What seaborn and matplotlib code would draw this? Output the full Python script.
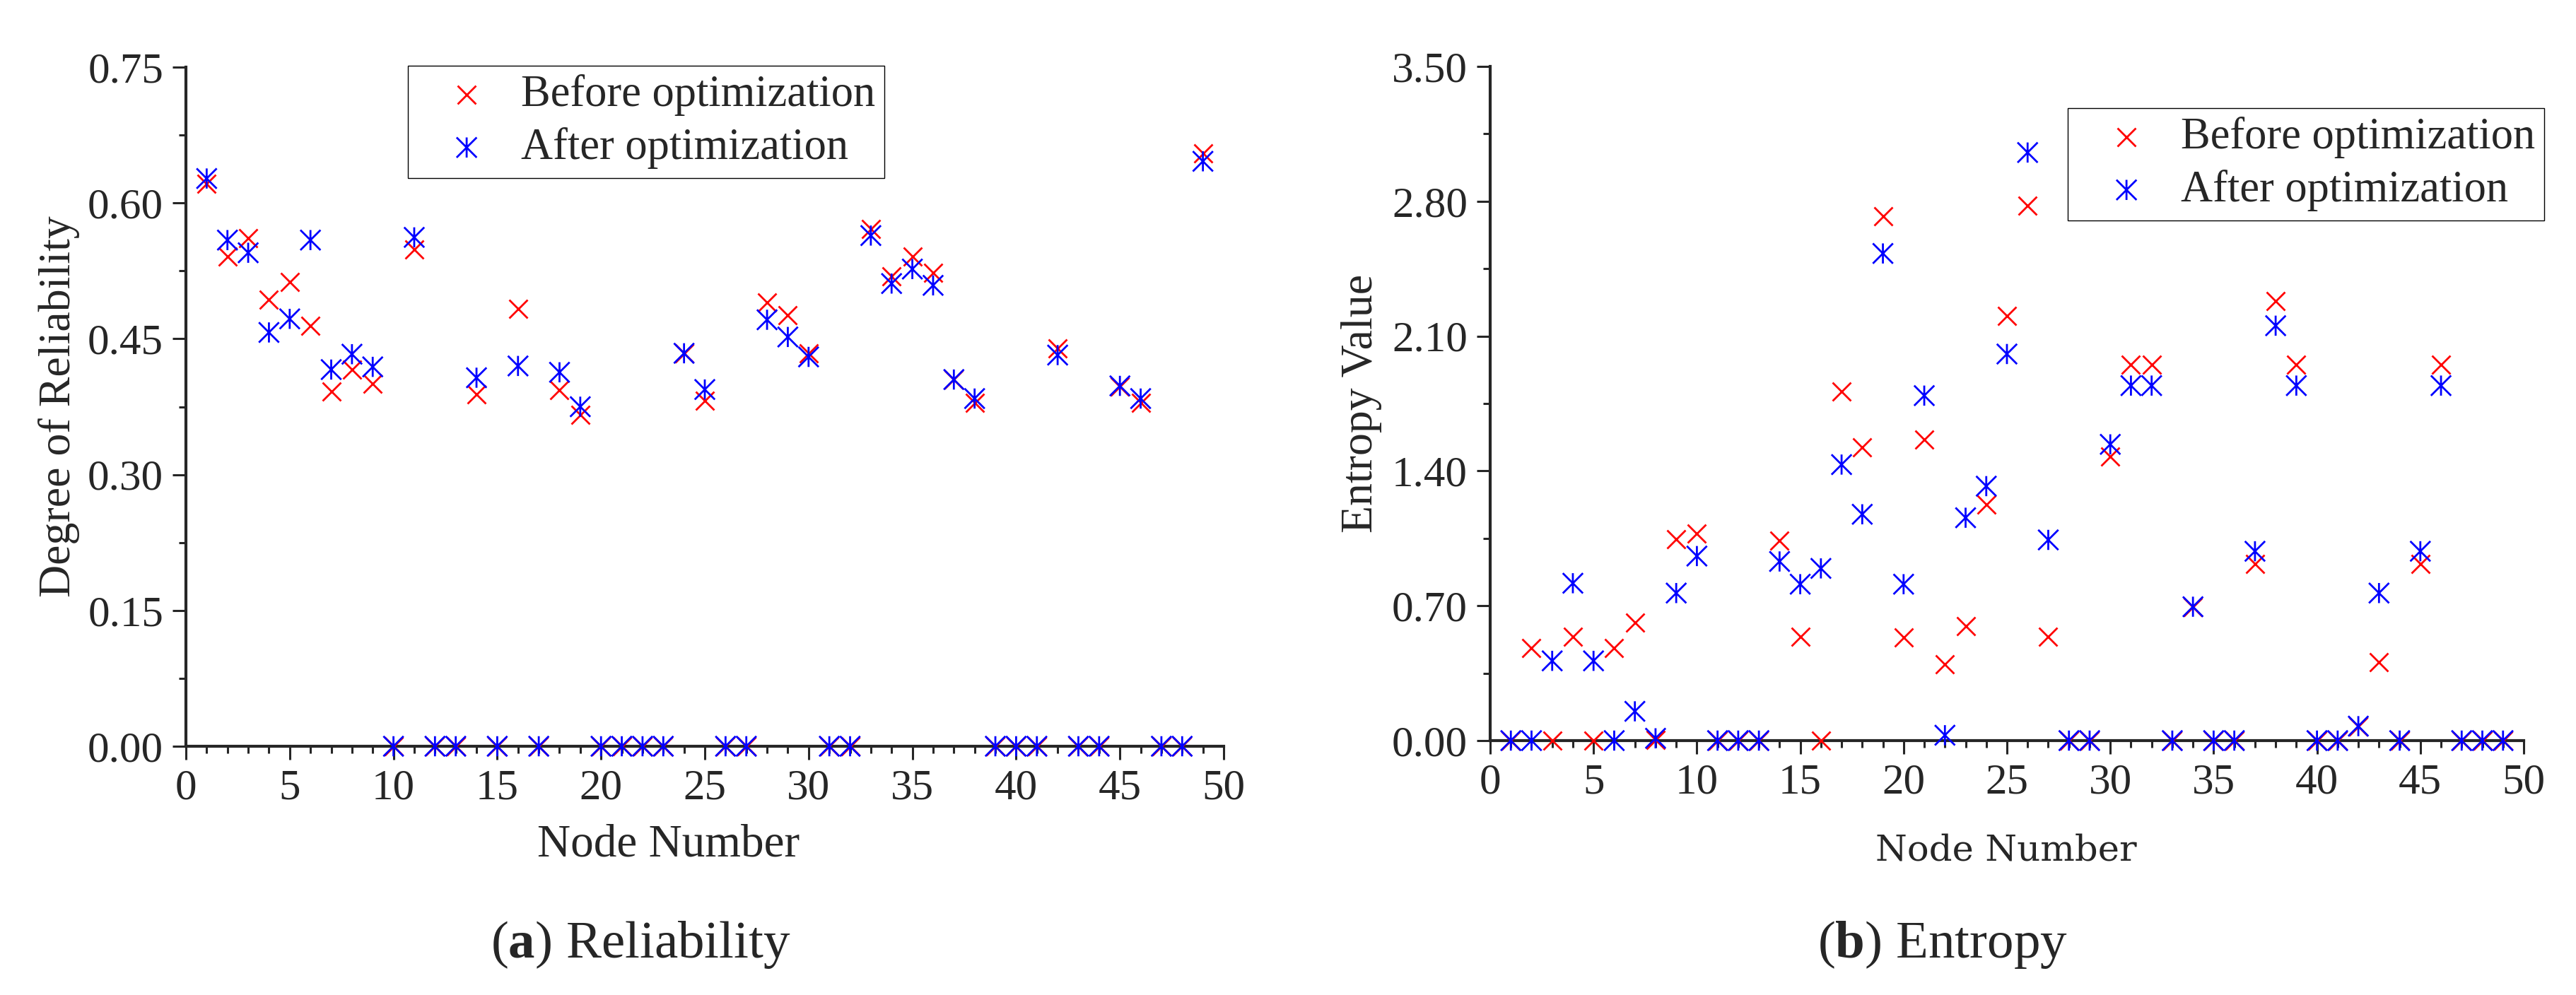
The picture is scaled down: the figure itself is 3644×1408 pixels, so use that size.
import matplotlib
matplotlib.use("Agg")
import matplotlib.pyplot as plt
from matplotlib.path import Path
from matplotlib.ticker import MultipleLocator, FormatStrFormatter
import seaborn as sns

# node ids 1..49
nodes = list(range(1, 50))

# (a) degree of reliability
rel_before = [0.621, 0.541, 0.561, 0.493, 0.513, 0.464, 0.392, 0.416, 0.400, 0,
              0.549, 0, 0, 0.389, 0, 0.483, 0, 0.393, 0.366, 0,
              0, 0, 0, 0.434, 0.382, 0, 0, 0.490, 0.476, 0.434,
              0, 0, 0.571, 0.519, 0.541, 0.523, 0.405, 0.379, 0, 0,
              0, 0.439, 0, 0, 0.397, 0.379, 0, 0, 0.655]
rel_after = [0.627, 0.559, 0.545, 0.457, 0.472, 0.559, 0.416, 0.433, 0.419, 0,
             0.562, 0, 0, 0.407, 0, 0.420, 0, 0.413, 0.375, 0,
             0, 0, 0, 0.434, 0.394, 0, 0, 0.471, 0.452, 0.430,
             0, 0, 0.564, 0.511, 0.527, 0.509, 0.405, 0.384, 0, 0,
             0, 0.432, 0, 0, 0.398, 0.384, 0, 0, 0.646]

# (b) entropy value
ent_before = [0, 0.480, 0, 0.539, 0, 0.480, 0.611, 0.005, 1.047, 1.075,
              0, 0, 0, 1.040, 0.539, 0, 1.812, 1.522, 2.721, 0.536,
              1.562, 0.398, 0.595, 1.227, 2.206, 2.779, 0.539, 0, 0, 1.475,
              1.953, 1.953, 0, 0.695, 0, 0, 0.918, 2.283, 1.953, 0,
              0, 0.075, 0.407, 0, 0.918, 1.953, 0, 0, 0]
ent_after = [0, 0, 0.414, 0.817, 0.414, 0, 0.152, 0.012, 0.766, 0.958,
             0, 0, 0, 0.930, 0.812, 0.894, 1.433, 1.175, 2.529, 0.812,
             1.791, 0.028, 1.157, 1.321, 2.007, 3.053, 1.042, 0, 0, 1.538,
             1.843, 1.843, 0, 0.695, 0, 0, 0.983, 2.154, 1.843, 0,
             0, 0.075, 0.766, 0, 0.983, 1.843, 0, 0, 0]

labels = ["Before optimization", "After optimization"]

sns.set_style("ticks")
plt.rcParams["font.family"] = ["Liberation Serif", "DejaVu Serif"]
plt.rcParams["mathtext.fontset"] = "custom"
plt.rcParams["mathtext.rm"] = "Liberation Serif"
plt.rcParams["mathtext.bf"] = "Liberation Serif:bold"

# asterisk marker: x plus a vertical bar
star = Path([(-0.5, -0.5), (0.5, 0.5), (-0.5, 0.5), (0.5, -0.5), (0, -0.5), (0, 0.5)],
            [Path.MOVETO, Path.LINETO] * 3)

W, H = 3644, 1408
fig = plt.figure(figsize=(W / 100, H / 100), dpi=100)
ax1 = fig.add_axes([263 / W, 1 - 1056 / H, 1468 / W, 961 / H])
ax2 = fig.add_axes([2108 / W, 1 - 1048 / H, 1462 / W, 954 / H])


def draw(ax, before, after):
    sns.scatterplot(x=nodes, y=before, ax=ax, marker="x", color="red", s=350,
                    linewidth=2.0, clip_on=False, label=labels[0], legend=False, zorder=3)
    sns.scatterplot(x=nodes, y=after, ax=ax, marker=star, color="blue", edgecolor="blue",
                    facecolor="none", s=420, linewidth=2.0, clip_on=False,
                    label=labels[1], legend=False, zorder=4)
    sns.despine(ax=ax)
    ax.set_xlim(0, 50)
    ax.xaxis.set_major_locator(MultipleLocator(5))
    ax.xaxis.set_minor_locator(MultipleLocator(1))
    for sp in ax.spines.values():
        sp.set_linewidth(3)
    ax.tick_params(which="major", direction="out", length=14, width=2.2, labelsize=44, pad=9)
    ax.tick_params(which="minor", direction="out", length=7, width=2.2)


draw(ax1, rel_before, rel_after)
ax1.set_ylim(0, 0.75)
ax1.yaxis.set_major_locator(MultipleLocator(0.15))
ax1.yaxis.set_minor_locator(MultipleLocator(0.075))
ax1.yaxis.set_major_formatter(FormatStrFormatter("%.2f"))

draw(ax2, ent_before, ent_after)
ax2.set_ylim(0, 3.5)
ax2.yaxis.set_major_locator(MultipleLocator(0.7))
ax2.yaxis.set_minor_locator(MultipleLocator(0.35))
ax2.yaxis.set_major_formatter(FormatStrFormatter("%.2f"))

# axis labels
ax1.set_xlabel("Node Number", fontsize=47)
ax1.xaxis.set_label_coords(0.465, -0.1623)
ax1.xaxis.label.set_va("baseline")
ax1.set_ylabel("Degree of Reliability", fontsize=46)
ax1.yaxis.set_label_coords(-0.1226, 0.5)
ax1.yaxis.label.set_va("center")

ax2.set_xlabel("Node Number", fontsize=37, family="DejaVu Serif")
ax2.xaxis.set_label_coords(0.4993, -0.1777)
ax2.xaxis.label.set_va("baseline")
ax2.set_ylabel("Entropy Value", fontsize=46)
ax2.yaxis.set_label_coords(-0.1245, 0.5)
ax2.yaxis.label.set_va("center")

# legends
for ax, (lx, ly) in [(ax1, (577, 93)), (ax2, (2925, 153))]:
    h, l = ax.get_legend_handles_labels()
    leg = ax.legend(h, l, loc="upper left", bbox_to_anchor=(lx / W, 1 - ly / H),
                    bbox_transform=fig.transFigure, borderaxespad=0, borderpad=0.2,
                    handlelength=2.26, handletextpad=0.1, labelspacing=0.25,
                    fontsize=45, frameon=True, fancybox=False, framealpha=1,
                    edgecolor="black", scatterpoints=1)
    leg.get_frame().set_linewidth(1.0)

# panel captions
fig.text(906 / W, 1 - 1355 / H, r"($\mathbf{a}$) Reliability", ha="center", va="baseline", fontsize=54)
fig.text(2748 / W, 1 - 1355 / H, r"($\mathbf{b}$) Entropy", ha="center", va="baseline", fontsize=54)

fig.savefig("out.png", dpi=100)
